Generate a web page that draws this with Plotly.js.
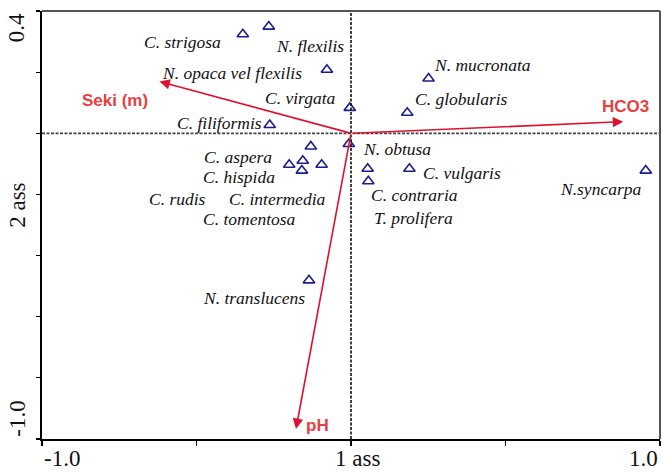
<!DOCTYPE html>
<html>
<head>
<meta charset="utf-8">
<script src="https://cdn.plot.ly/plotly-3.0.1.min.js"></script>
<style>
  html, body { margin: 0; padding: 0; background: #fff; }
  #chart { width: 662px; height: 472px; }
</style>
</head>
<body>
<div id="chart"></div>
<script>
// Species scores on the first two canonical axes
const species = [
  'C. strigosa', 'N. flexilis', 'N. opaca vel flexilis', 'N. mucronata',
  'C. virgata', 'C. globularis', 'C. filiformis', 'N. obtusa',
  'C. aspera', 'C. hispida', 'C. rudis', 'C. intermedia', 'C. tomentosa',
  'C. vulgaris', 'C. contraria', 'T. prolifera', 'N.syncarpa', 'N. translucens'
];
const axis1 = [
  -0.350, -0.266, -0.078, 0.251,
  -0.004, 0.182, -0.263, -0.007,
  -0.130, -0.156, -0.200, -0.095, -0.159,
  0.189, 0.054, 0.056, 0.954, -0.136
];
const axis2 = [
  0.324, 0.349, 0.208, 0.179,
  0.083, 0.067, 0.027, -0.035,
  -0.043, -0.090, -0.103, -0.103, -0.122,
  -0.116, -0.116, -0.157, -0.122, -0.481
];

// Environmental variable biplot arrows
const envNames = ['Seki (m)', 'HCO3', 'pH'];
const envAxis1 = [-0.620, 0.881, -0.178];
const envAxis2 = [0.169, 0.038, -0.967];

// Where each species name is written (same order as species)
const labelX = [
  -0.544, -0.133, -0.385, 0.427,
  -0.162, 0.356, -0.427, 0.149,
  -0.366, -0.362, -0.560, -0.239, -0.327,
  0.359, 0.204, 0.201, 0.806, -0.314
];
const labelY = [
  0.300, 0.287, 0.198, 0.225,
  0.117, 0.113, 0.035, -0.053,
  -0.076, -0.143, -0.214, -0.214, -0.280,
  -0.129, -0.201, -0.276, -0.181, -0.538
];
// Where each variable name is written
const envLabelX = [-0.765, 0.887, -0.110];
const envLabelY = [0.107, 0.088, -0.955];

const serif = '"Liberation Serif", "Times New Roman", serif';
const sans = '"Liberation Sans", Arial, sans-serif';
const arrowRed = '#e0112e';
const labelRed = '#e8403f';

const traces = [{
  type: 'scatter',
  mode: 'markers',
  x: axis1,
  y: axis2,
  text: species,
  hoverinfo: 'text',
  marker: {
    symbol: 'triangle-up-open',
    size: 10,
    color: '#1c1c8f',
    line: { color: '#1c1c8f', width: 1.6 }
  },
  showlegend: false
}];

const annotations = [];

// species names
species.forEach((name, i) => {
  annotations.push({
    x: labelX[i], y: labelY[i], xref: 'x', yref: 'y',
    text: '<i>' + name + '</i>',
    showarrow: false,
    font: { family: serif, size: 17.5, color: '#111' }
  });
});

// arrows from the origin to each variable's score
envNames.forEach((name, i) => {
  annotations.push({
    x: envAxis1[i], y: envAxis2[i], xref: 'x', yref: 'y',
    ax: 0, ay: 0, axref: 'x', ayref: 'y',
    text: '', showarrow: true,
    arrowhead: 2, arrowsize: 1.3, arrowwidth: 1.6,
    arrowcolor: arrowRed, standoff: 0, startstandoff: 0
  });
  annotations.push({
    x: envLabelX[i], y: envLabelY[i], xref: 'x', yref: 'y',
    text: '<b>' + name + '</b>', showarrow: false,
    font: { family: sans, size: 17, color: labelRed }
  });
});

// axis end labels and titles
const axisFont = { family: serif, size: 23, color: '#111' };
annotations.push(
  { x: -1, y: -0.045, xref: 'x', yref: 'paper', xanchor: 'left', yanchor: 'middle',
    text: '-1.0', showarrow: false, font: axisFont },
  { x: 0.02, y: -0.045, xref: 'x', yref: 'paper', xanchor: 'center', yanchor: 'middle',
    text: '1 ass', showarrow: false, font: axisFont },
  { x: 1, y: -0.045, xref: 'x', yref: 'paper', xanchor: 'right', yanchor: 'middle',
    text: '1.0', showarrow: false, font: axisFont },
  { x: -0.041, y: 0.4, xref: 'paper', yref: 'y', xanchor: 'center', yanchor: 'top',
    text: '0.4', textangle: -90, showarrow: false, font: axisFont },
  { x: -0.041, y: -0.235, xref: 'paper', yref: 'y', xanchor: 'center', yanchor: 'middle',
    text: '2 ass', textangle: -90, showarrow: false, font: axisFont },
  { x: -0.041, y: -1.0, xref: 'paper', yref: 'y', xanchor: 'center', yanchor: 'bottom',
    text: '-1.0', textangle: -90, showarrow: false, font: axisFont }
);

const layout = {
  width: 662,
  height: 472,
  margin: { l: 42, r: 2, t: 11, b: 33 },
  paper_bgcolor: '#fff',
  plot_bgcolor: '#fff',
  xaxis: {
    range: [-1, 1],
    tickvals: [-1, -0.5, 0, 0.5, 1],
    showticklabels: false,
    ticks: 'outside', ticklen: 5, tickwidth: 1.2, tickcolor: '#000',
    showgrid: false, zeroline: false,
    showline: true, linecolor: '#000', linewidth: 1.6
  },
  yaxis: {
    range: [-1, 0.4],
    tickvals: [0.4, 0.2, 0, -0.2, -0.4, -0.6, -0.8, -1.0],
    showticklabels: false,
    ticks: 'outside', ticklen: 4, tickwidth: 1.2, tickcolor: '#000',
    showgrid: false, zeroline: false,
    showline: true, linecolor: '#000', linewidth: 1.6
  },
  shapes: [
    // dashed axes through the origin
    { type: 'line', xref: 'x', yref: 'paper', x0: 0, x1: 0, y0: 0, y1: 1,
      line: { color: '#111', width: 1.6, dash: '3px,1.5px' } },
    { type: 'line', xref: 'paper', yref: 'y', x0: 0, x1: 1, y0: 0, y1: 0,
      line: { color: '#444', width: 1.8, dash: '3px,1.5px' } },
    // frame top and right
    { type: 'line', xref: 'paper', yref: 'paper', x0: 0, x1: 1, y0: 1, y1: 1,
      line: { color: '#555', width: 2 } },
    { type: 'line', xref: 'paper', yref: 'paper', x0: 1, x1: 1, y0: 0, y1: 1,
      line: { color: '#555', width: 2 } }
  ],
  annotations: annotations
};

Plotly.newPlot('chart', traces, layout, { displayModeBar: false, staticPlot: true });
</script>
</body>
</html>
